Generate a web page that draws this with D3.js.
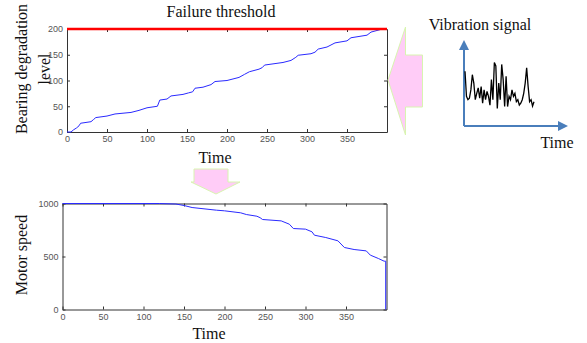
<!DOCTYPE html>
<html>
  <head>
    <meta charset="utf-8">
    <title>Bearing degradation</title>
    <script src="https://d3js.org/d3.v7.min.js"></script>
    <style>
      body { margin: 0; background: #fff; }
      .axis path, .axis line { stroke: #333; }
      .axis text { fill: #555; font-family: 'Liberation Sans', Arial, sans-serif; font-size: 9px; }
    </style>
  </head>
  <body>
    <svg width="587" height="343"></svg>

  <script>
    // ---- data ----
    var xTicks = [0, 50, 100, 150, 200, 250, 300, 350];
    var degTicks = [0, 50, 100, 150, 200];
    var speedTicks = [0, 500, 1000];
    var threshold = 200;

    // bearing degradation level vs time
    var degTime = [0, 5, 8, 12, 15, 17, 30, 33, 36, 50, 60, 80, 90, 100, 113, 116, 125, 130, 145, 152, 157, 160, 170,
                   180, 185, 200, 210, 215, 222, 228, 240, 244, 247, 270, 280, 286, 289, 305, 310, 314, 325, 335, 350,
                   355, 375, 380, 392];
    var degLevel = [0, 0, 4, 8, 12, 17, 20, 24, 28, 31, 35, 38, 42, 47, 50, 62, 64, 70, 73, 76, 78, 85, 87,
                    92, 98, 100, 104, 106, 112, 117, 122, 125, 130, 135, 139, 145, 149, 152, 155, 161, 165, 173, 177,
                    183, 188, 194, 199];

    // motor speed vs time
    var spdTime = [0, 120, 140, 150, 160, 190, 200, 220, 227, 240, 244, 247, 270, 280, 285, 300, 308, 311, 325,
                   340, 348, 360, 375, 380, 390, 397, 399, 399];
    var spdValue = [1000, 1000, 995, 981, 962, 937, 931, 912, 896, 880, 866, 849, 836, 805, 764, 758, 733, 701, 679,
                    648, 585, 566, 553, 513, 481, 456, 456, 0];

    // vibration signal sketch (arbitrary units)
    var vib = [7.9, 2.8, 2.1, 2.4, 4.1, 7.2, 5.5, 2.1, 3.4, 4.5, 2.4, 4.8, 1.4, 4.1, 2.1, 3.8, 2.8, 1.0, 6.2, 2.1,
               9.7, 9.0, 0.3, 5.5, 2.1, 9.3, 6.2, 0.7, 6.9, 0.7, 2.8, 2.1, 4.1, 2.8, 3.4, 1.7, 2.1, 1.0, 1.4, 2.1,
               3.4, 5.5, 8.6, 4.8, 1.7, 2.1, 0.8, 1.7];

    var serif = "'Liberation Serif', 'Times New Roman', Times, serif";

    var svg = d3.select("svg");
    svg.append("rect").attr("width", 587).attr("height", 343).attr("fill", "#fff");

    function label(x, y, rot, txt) {
      return svg.append("text")
        .attr("transform", "translate(" + x + "," + y + ")" + (rot ? " rotate(-90)" : ""))
        .attr("text-anchor", "middle")
        .attr("font-family", serif)
        .attr("font-size", "16px")
        .attr("fill", "#111")
        .text(txt);
    }

    // draws one matlab-style boxed axes
    function panel(x0, x1, y0, y1, yMax, yTicks) {
      var x = d3.scaleLinear().domain([0, 400]).range([x0, x1]),
          y = d3.scaleLinear().domain([0, yMax]).range([y1, y0]);

      svg.append("g").attr("class", "axis").attr("transform", "translate(0," + y1 + ")")
        .call(d3.axisBottom(x).tickValues(xTicks).tickSizeInner(-3).tickSizeOuter(0).tickPadding(4));
      svg.append("g").attr("class", "axis").attr("transform", "translate(0," + y0 + ")")
        .call(d3.axisTop(x).tickValues(xTicks).tickSizeInner(-3).tickSizeOuter(0).tickFormat(""));
      svg.append("g").attr("class", "axis").attr("transform", "translate(" + x0 + ",0)")
        .call(d3.axisLeft(y).tickValues(yTicks).tickFormat(d3.format("d"))
                .tickSizeInner(-3).tickSizeOuter(0).tickPadding(4));
      svg.append("g").attr("class", "axis").attr("transform", "translate(" + x1 + ",0)")
        .call(d3.axisRight(y).tickValues(yTicks).tickSizeInner(-3).tickSizeOuter(0).tickFormat(""));
      return {x: x, y: y};
    }

    // ---- top: bearing degradation ----
    var degAx = panel(67, 387, 29, 132, 200, degTicks);

    svg.append("path")
       .datum(degTime)
       .attr("fill", "none")
       .attr("stroke", "#2a2aff")
       .attr("stroke-width", 1)
       .attr("d", d3.line().x(function(d) { return degAx.x(d); })
                           .y(function(d, i) { return degAx.y(degLevel[i]); }));

    svg.append("line")
       .attr("x1", degAx.x(0)).attr("x2", degAx.x(400))
       .attr("y1", degAx.y(threshold)).attr("y2", degAx.y(threshold))
       .attr("stroke", "#ff0000").attr("stroke-width", 2.5);

    label(221, 17, false, "Failure threshold");
    label(215, 163, false, "Time");
    label(27, 69, true, "Bearing degradation");
    label(50, 69, true, "level");

    // ---- bottom: motor speed ----
    var spdAx = panel(62.5, 386.5, 203.5, 309.5, 1000, speedTicks);

    svg.append("path")
       .datum(spdTime)
       .attr("fill", "none")
       .attr("stroke", "#2a2aff")
       .attr("stroke-width", 1)
       .attr("d", d3.line().x(function(d) { return spdAx.x(d); })
                           .y(function(d, i) { return spdAx.y(spdValue[i]); }));

    label(209, 339, false, "Time");
    label(27, 255, true, "Motor speed");

    // ---- pink arrows ----
    svg.append("path")
       .attr("d", "M388,80 L405.5,27 L405.5,55 L422.5,55 L422.5,107 L405.5,107 L405.5,135 Z")
       .attr("fill", "#ffccf7").attr("stroke", "#d8f5b0").attr("stroke-width", 1);
    svg.append("path")
       .attr("d", "M194,169 L228,169 L228,182 L240,182 L216,194 L191,182 L194,182 Z")
       .attr("fill", "#ffccf7").attr("stroke", "#d8f5b0").attr("stroke-width", 1);

    // ---- vibration signal sketch ----
    var vx = d3.scaleLinear().domain([0, vib.length - 1]).range([465, 534]),
        vy = d3.scaleLinear().domain([0, 10]).range([110, 61]);

    svg.append("defs").append("marker")
       .attr("id", "tip").attr("viewBox", "0 0 10 10").attr("refX", 8).attr("refY", 5)
       .attr("markerWidth", 5).attr("markerHeight", 5).attr("orient", "auto")
       .append("path").attr("d", "M0,0 L10,5 L0,10 Z").attr("fill", "#4a7ebb");

    svg.append("line").attr("x1", 464).attr("y1", 126).attr("x2", 464).attr("y2", 42)
       .attr("stroke", "#4a7ebb").attr("stroke-width", 2).attr("marker-end", "url(#tip)");
    svg.append("line").attr("x1", 464).attr("y1", 126).attr("x2", 566).attr("y2", 126)
       .attr("stroke", "#4a7ebb").attr("stroke-width", 2).attr("marker-end", "url(#tip)");

    svg.append("path")
       .datum(vib)
       .attr("fill", "none")
       .attr("stroke", "#000")
       .attr("stroke-width", 1.3)
       .attr("d", d3.line().x(function(d, i) { return vx(i); }).y(function(d) { return vy(d); }));

    label(480, 30, false, "Vibration signal");
    label(557, 148, false, "Time");
  </script>
  </body>
</html>
